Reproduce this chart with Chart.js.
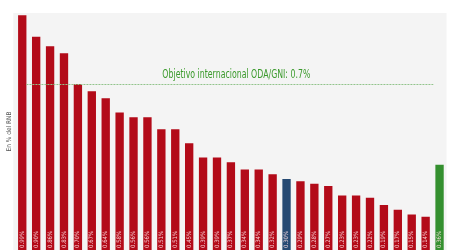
<!DOCTYPE html>
<html>
<head>
<meta charset="utf-8">
<script src="https://cdn.jsdelivr.net/npm/chart.js@4"></script>
<style>
    html, body { margin: 0; padding: 0; background: #ffffff; }
    #wrap { width: 450px; height: 250px; position: relative; }
</style>
</head>
<body>
<div id="wrap"><canvas id="myChart"></canvas></div>
<script>
// countries (categories) of the chart
let countries = [
    'Luxemburgo', 'Suecia', 'Noruega', 'Alemania', 'Dinamarca', 'Países Bajos',
    'Irlanda', 'Finlandia', 'Suiza', 'Francia', 'Reino Unido', 'Bélgica',
    'Austria', 'Canadá', 'Japón', 'Islandia', 'Italia', 'Nueva Zelanda',
    'Australia', 'España', 'Estonia', 'Lituania', 'Eslovenia', 'Portugal',
    'Estados Unidos', 'Corea', 'Polonia', 'Grecia', 'Rep. Checa', 'Hungría',
    'Media CAD'
];

// ODA as % of GNI for each country
let odaValues = [
    0.99, 0.90, 0.86, 0.83, 0.70, 0.67, 0.64, 0.58, 0.56, 0.56,
    0.51, 0.51, 0.45, 0.39, 0.39, 0.37, 0.34, 0.34, 0.32, 0.30,
    0.29, 0.28, 0.27, 0.23, 0.23, 0.22, 0.19, 0.17, 0.15, 0.14,
    0.36
];

// international target and its label
let targetValue = 0.7;
let targetLabel = 'Objetivo internacional ODA/GNI: 0.7%';
let axisTitle = 'En % del RNB';

// which bars get a highlight color
let highlightCountry = 'España';
let averageName = 'Media CAD';

const myChart = document.getElementById('myChart');

//pick a color for each bar
function barColor(name) {
    if(name === highlightCountry) {
        return '#264a73';
    }
    if(name === averageName) {
        return '#34902f';
    }
    return '#b30b19';
}

//gray background behind the bars
const plotBackground = {
    id: 'plotBackground',
    beforeDraw(chart) {
        let ctx = chart.ctx;
        let area = chart.chartArea;
        ctx.save();
        ctx.fillStyle = '#f4f4f4';
        ctx.fillRect(area.left - 2, area.top, area.right - area.left + 2, area.bottom - area.top);
        ctx.restore();
    }
};

//dashed target line and its text
const targetLine = {
    id: 'targetLine',
    afterDatasetsDraw(chart) {
        let ctx = chart.ctx;
        let x = chart.scales.x;
        let y = chart.scales.y;
        let half = x.getPixelForValue(1) - x.getPixelForValue(0);
        let yPos = Math.round(y.getPixelForValue(targetValue)) + 0.5;
        let start = x.getPixelForValue(0) + half * 0.3;
        let end = x.getPixelForValue(odaValues.length - 1) - half * 0.45;

        ctx.save();
        ctx.strokeStyle = '#92c48c';
        ctx.lineWidth = 1;
        ctx.setLineDash([2, 1]);
        ctx.beginPath();
        ctx.moveTo(start, yPos);
        ctx.lineTo(end, yPos);
        ctx.stroke();

        //text squeezed to look like a condensed font
        ctx.font = '500 12px "Liberation Sans Narrow", "DejaVu Sans Condensed", sans-serif';
        ctx.fillStyle = '#3b9a2c';
        ctx.textBaseline = 'alphabetic';
        let w = ctx.measureText(targetLabel).width;
        let textX = x.getPixelForValue(10) + 1;
        ctx.translate(textX, yPos - 6.5);
        ctx.scale(148 / w, 1);
        ctx.fillText(targetLabel, 0, 0);
        ctx.restore();
    }
};

//value labels written inside the bottom of each bar
const valueLabels = {
    id: 'valueLabels',
    afterDatasetsDraw(chart) {
        let ctx = chart.ctx;
        let meta = chart.getDatasetMeta(0);
        ctx.save();
        ctx.font = '6px "Liberation Sans Narrow", "DejaVu Sans Condensed", sans-serif';
        ctx.fillStyle = 'rgba(255, 225, 228, 0.9)';
        ctx.textAlign = 'left';
        ctx.textBaseline = 'middle';
        meta.data.forEach((bar, i) => {
            ctx.save();
            ctx.translate(bar.x, chart.chartArea.bottom - 2);
            ctx.rotate(-Math.PI / 2);
            ctx.fillText(odaValues[i].toFixed(2) + '%', 0, 0);
            ctx.restore();
        });
        ctx.restore();
    }
};

let chart = new Chart(myChart, {
    type: 'bar',
    data: {
        labels: countries,
        datasets: [{
            data: odaValues,
            backgroundColor: countries.map(barColor),
            borderWidth: 0,
            barPercentage: 0.6,
            categoryPercentage: 1
        }]
    },
    options: {
        responsive: true,
        maintainAspectRatio: false,
        animation: false,
        layout: {
            padding: { left: 3.5, top: 13, right: 3.5, bottom: 0 }
        },
        plugins: {
            legend: { display: false },
            tooltip: { enabled: false }
        },
        scales: {
            x: {
                display: false
            },
            y: {
                min: 0,
                max: 1.0,
                ticks: { display: false },
                grid: { display: false, drawTicks: false },
                border: { display: false },
                title: {
                    display: true,
                    text: axisTitle,
                    color: '#555555',
                    font: { family: '"Liberation Sans Narrow", "DejaVu Sans Condensed", sans-serif', size: 6.5 },
                    padding: 2
                }
            }
        }
    },
    plugins: [plotBackground, targetLine, valueLabels]
});
</script>
</body>
</html>
